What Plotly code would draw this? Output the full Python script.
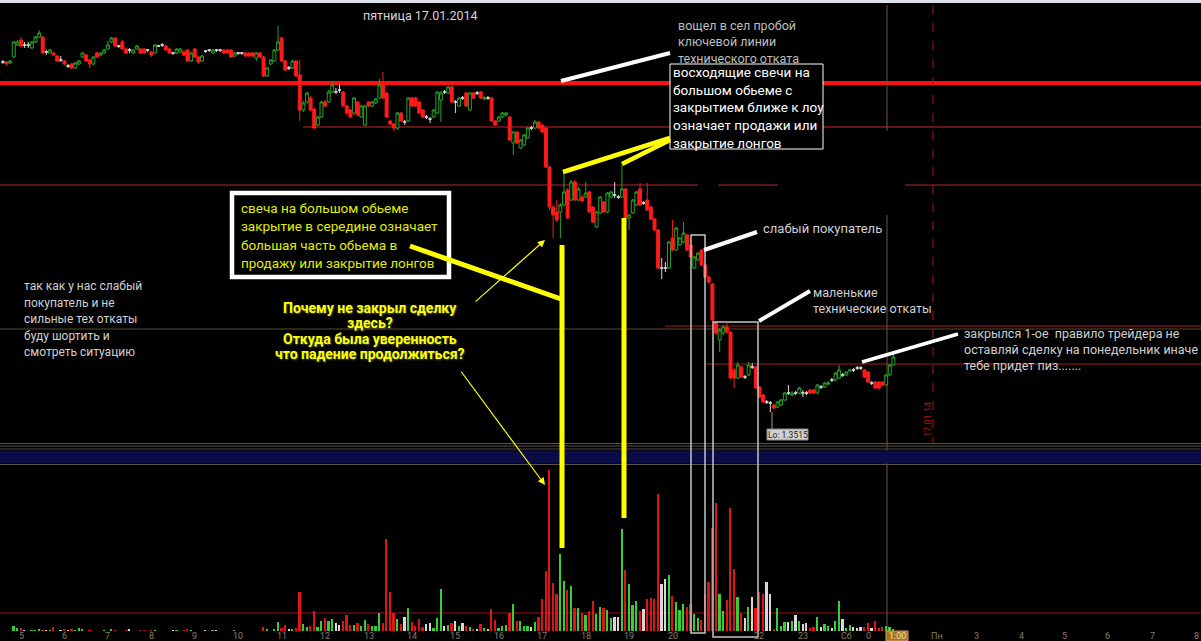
import numpy as np
import pandas as pd
import plotly.graph_objects as go

# ---------------- data ----------------
BASE_PRICE = 1.35000           # OHLC below are in points (0.00001) above this base
START_TIME = "2014-01-17 04:35"
BAR_MINUTES = 5

open_pts = [
    850, 850, 848, 860, 884, 894, 884, 884, 878, 890,
    900, 900, 870, 868, 868, 862, 854, 852, 842, 846,
    838, 846, 860, 864, 854, 846, 868, 864, 868, 876,
    890, 898, 882, 890, 876, 874, 868, 876, 876, 876,
    874, 870, 868, 882, 884, 882, 876, 868, 868, 870,
    870, 874, 852, 876, 860, 852, 872, 874, 868, 874,
    874, 874, 874, 874, 862, 868, 868, 868, 868, 868,
    858, 868, 860, 822, 846, 852, 874, 898, 852, 838,
    838, 852, 824, 754, 770, 778, 756, 724, 740, 770,
    770, 790, 790, 794, 790, 762, 754, 748, 770, 740,
    724, 770, 762, 768, 778, 804, 788, 732, 726, 718,
    748, 730, 732, 778, 778, 770, 754, 740, 736, 740,
    748, 774, 790, 788, 800, 770, 762, 778, 788, 754,
    788, 788, 790, 776, 778, 778, 732, 732, 740, 744,
    740, 688, 710, 678, 684, 698, 718, 718, 730, 724,
    718, 640, 560, 550, 550, 564, 594, 574, 610, 574,
    580, 580, 590, 560, 520, 548, 570, 550, 580, 584,
    580, 580, 596, 538, 548, 564, 596, 568, 574, 560,
    536, 514, 438, 438, 438, 498, 474, 484, 490, 504,
    484, 438, 454, 474, 444, 420, 406, 330, 294, 308,
    320, 310, 234, 218, 240, 220, 224, 240, 240, 200,
    184, 170, 168, 164, 160, 164, 174, 188, 184, 188,
    188, 188, 188, 194, 194, 188, 200, 200, 206, 214,
    214, 218, 224, 224, 232, 234, 238, 238, 234, 230,
    208, 210, 210, 210, 204, 224, 244,
]
high_pts = [
    854, 852, 854, 892, 894, 900, 890, 890, 892, 902,
    914, 902, 874, 876, 870, 864, 862, 854, 846, 848,
    850, 854, 870, 866, 856, 862, 870, 870, 876, 892,
    900, 900, 884, 894, 878, 878, 876, 884, 878, 878,
    876, 872, 886, 884, 888, 884, 878, 870, 878, 878,
    874, 876, 870, 878, 862, 864, 874, 876, 876, 876,
    876, 876, 876, 876, 870, 870, 870, 870, 870, 870,
    870, 870, 862, 840, 856, 876, 922, 900, 854, 842,
    854, 854, 854, 772, 790, 782, 758, 742, 772, 774,
    794, 810, 798, 806, 792, 764, 756, 780, 772, 764,
    764, 772, 772, 778, 816, 830, 790, 734, 728, 750,
    750, 734, 780, 780, 780, 772, 756, 744, 740, 756,
    792, 792, 794, 802, 802, 774, 780, 782, 790, 790,
    790, 792, 792, 782, 782, 780, 734, 742, 750, 750,
    742, 712, 712, 696, 706, 720, 722, 734, 732, 726,
    720, 642, 564, 574, 568, 628, 598, 614, 614, 600,
    584, 610, 592, 562, 552, 582, 572, 590, 592, 610,
    584, 644, 598, 546, 576, 592, 608, 572, 608, 562,
    538, 516, 458, 450, 492, 534, 520, 500, 530, 506,
    486, 462, 470, 476, 446, 422, 408, 332, 318, 324,
    328, 312, 238, 250, 242, 224, 250, 248, 242, 202,
    186, 174, 172, 166, 172, 176, 190, 204, 192, 192,
    200, 194, 192, 196, 196, 206, 204, 210, 212, 218,
    230, 244, 228, 232, 236, 238, 242, 242, 236, 232,
    212, 212, 212, 212, 226, 246, 268,
]
low_pts = [
    846, 844, 846, 858, 882, 880, 878, 878, 876, 888,
    898, 866, 864, 866, 862, 850, 850, 844, 838, 836,
    836, 844, 858, 850, 838, 844, 858, 862, 866, 874,
    888, 880, 878, 874, 866, 868, 866, 874, 866, 866,
    870, 860, 866, 880, 880, 872, 866, 864, 866, 868,
    862, 850, 850, 858, 846, 850, 868, 870, 866, 870,
    870, 866, 866, 858, 860, 864, 864, 860, 860, 860,
    852, 858, 820, 820, 844, 850, 872, 850, 832, 834,
    836, 820, 732, 750, 766, 752, 716, 722, 738, 760,
    768, 788, 786, 788, 760, 744, 738, 744, 742, 738,
    722, 760, 760, 766, 776, 776, 738, 724, 712, 714,
    730, 724, 730, 760, 760, 746, 738, 736, 728, 738,
    746, 730, 786, 786, 768, 748, 760, 774, 760, 752,
    776, 784, 776, 774, 774, 730, 722, 730, 738, 742,
    692, 664, 686, 676, 682, 696, 714, 716, 716, 708,
    638, 554, 498, 530, 498, 562, 536, 572, 572, 572,
    570, 578, 548, 528, 518, 546, 548, 548, 578, 578,
    576, 578, 536, 514, 546, 562, 562, 564, 552, 534,
    512, 434, 416, 430, 436, 472, 472, 482, 488, 472,
    458, 436, 452, 442, 418, 406, 330, 304, 270, 304,
    306, 216, 198, 216, 218, 216, 222, 236, 196, 178,
    168, 166, 150, 156, 158, 162, 172, 184, 182, 184,
    186, 180, 184, 186, 186, 186, 196, 198, 204, 210,
    212, 216, 220, 222, 230, 230, 234, 234, 218, 208,
    204, 196, 194, 202, 202, 222, 242,
]
close_pts = [
    850, 846, 852, 890, 890, 882, 884, 884, 890, 900,
    908, 868, 870, 874, 864, 852, 854, 846, 842, 838,
    848, 852, 868, 852, 846, 860, 860, 868, 874, 884,
    898, 882, 882, 876, 868, 874, 874, 882, 868, 868,
    874, 864, 884, 882, 884, 874, 868, 868, 876, 876,
    864, 852, 868, 860, 850, 862, 872, 874, 874, 874,
    874, 868, 868, 860, 868, 868, 868, 862, 862, 862,
    868, 860, 822, 838, 854, 874, 890, 852, 834, 838,
    852, 822, 754, 768, 788, 754, 718, 740, 770, 762,
    790, 804, 790, 794, 762, 748, 740, 778, 744, 762,
    762, 762, 770, 776, 804, 778, 740, 726, 718, 748,
    732, 730, 778, 762, 762, 748, 740, 740, 736, 754,
    790, 788, 790, 800, 770, 770, 778, 778, 762, 788,
    778, 788, 778, 778, 778, 732, 724, 740, 748, 748,
    694, 710, 688, 694, 704, 718, 718, 730, 718, 710,
    640, 560, 544, 534, 564, 590, 538, 610, 574, 596,
    572, 588, 550, 530, 550, 580, 550, 588, 590, 584,
    580, 596, 538, 544, 574, 590, 564, 568, 554, 536,
    514, 438, 438, 438, 490, 474, 518, 498, 508, 474,
    460, 460, 468, 444, 420, 410, 334, 308, 314, 320,
    310, 218, 218, 244, 220, 220, 244, 240, 198, 180,
    170, 170, 168, 158, 170, 174, 188, 188, 188, 188,
    198, 188, 188, 188, 188, 204, 200, 208, 208, 214,
    228, 234, 224, 230, 234, 234, 238, 238, 220, 210,
    208, 198, 198, 204, 224, 244, 260,
]
volume = [
    0, 0, 0, 50, 30, 30, 10, 0, 10, 10,
    20, 10, 10, 10, 40, 0, 10, 20, 10, 20,
    10, 30, 20, 0, 10, 0, 0, 0, 10, 0,
    20, 10, 0, 0, 10, 20, 0, 0, 10, 10,
    0, 10, 10, 0, 0, 0, 0, 10, 10, 0,
    10, 20, 10, 0, 0, 0, 10, 0, 10, 10,
    0, 0, 0, 0, 10, 0, 0, 0, 0, 0,
    0, 0, 40, 20, 0, 20, 90, 30, 60, 20,
    20, 30, 390, 70, 40, 50, 200, 40, 100, 130,
    100, 120, 80, 60, 100, 160, 60, 60, 80, 50,
    110, 70, 50, 50, 180, 80, 920, 390, 180, 120,
    70, 140, 230, 90, 50, 120, 40, 70, 80, 30,
    130, 420, 50, 60, 80, 100, 50, 80, 50, 40,
    20, 20, 70, 30, 20, 220, 110, 30, 50, 60,
    180, 270, 100, 100, 50, 50, 40, 90, 140, 320,
    600, 1610, 480, 370, 770, 500, 410, 450, 230, 230,
    180, 160, 200, 300, 170, 240, 230, 210, 130, 140,
    140, 1020, 610, 470, 260, 300, 200, 220, 320, 330,
    320, 1370, 470, 520, 560, 350, 290, 210, 270, 240,
    270, 170, 130, 110, 370, 490, 1030, 1280, 370, 200,
    310, 1230, 620, 340, 180, 130, 240, 340, 230, 390,
    370, 490, 370, 20, 230, 50, 90, 90, 100, 160,
    100, 70, 80, 30, 40, 140, 40, 70, 50, 30,
    100, 300, 120, 30, 60, 40, 30, 40, 40, 80,
    30, 100, 30, 40, 50, 40, 20,
]

key_levels = [1.35808, 1.35720, 1.35604, 1.35316, 1.35322, 1.35246]
volume_level = 180
low_label = "Lo: 1.3515"
date_label = "17.01.14"

tick_hours = [5, 6, 7, 8, 9, 10, 11, 12, 13, 14, 15, 16, 17, 18, 19, 20, 22, 23,
              24, 24.52, 25.17, 26.09, 27, 28.04, 29.03, 30.02, 31.04, 32.05]
tick_labels = ["5", "6", "7", "8", "9", "10", "11", "12", "13", "14", "15", "16",
               "17", "18", "19", "20", "22", "23", "Сб", "0", "1:00", "Пн",
               "3", "4", "5", "6", "7", "8"]

title_text = ["пятница 17.01.2014"]
note_breakout = ["вощел в сел пробой", "ключевой линии", "технического отката"]
note_box = ["восходящие свечи на", "большом обьеме с", "закрытием ближе к лоу",
            "означает продажи или", "закрытие лонгов"]
note_weak = ["слабый покупатель"]
note_pullbacks = ["маленькие", "технические откаты"]
note_closed = ["закрылся 1-ое  правило трейдера не",
               "оставляй сделку на понедельник иначе",
               "тебе придет пиз......."]
note_left = ["так как у нас слабый", "покупатель и не", "сильные тех откаты",
             "буду шортить и", "смотреть ситуацию"]
note_candle = ["свеча на большом обьеме", "закрытие в середине означает",
               "большая часть обьема в", "продажу или закрытие лонгов"]
note_question = ["Почему не закрыл сделку", "здесь?", "Откуда была уверенность",
                 "что падение продолжиться?"]

# ---------------- geometry ----------------
W, H = 1201, 641
PX_PER_HOUR = 43.44
X_HOUR0_PX = 21.0        # pixel x of 05:00
X0 = 5 - X_HOUR0_PX / PX_PER_HOUR
X1 = 5 + (W - X_HOUR0_PX) / PX_PER_HOUR


def px(x):
    return x / W


def py(y):
    return 1 - y / H


times = pd.date_range(START_TIME, periods=len(close_pts), freq=f"{BAR_MINUTES}min")
hours = ((times - times[0].normalize()).total_seconds() / 3600).to_numpy()

o = BASE_PRICE + np.array(open_pts) * 1e-5
h = BASE_PRICE + np.array(high_pts) * 1e-5
l = BASE_PRICE + np.array(low_pts) * 1e-5
c = BASE_PRICE + np.array(close_pts) * 1e-5
vol = np.array(volume)

up = c > o
down = c < o
flat = ~(up | down)

GREEN = "#25a525"
RED = "#ff1a1a"
WHITE = "#d8d8d8"
VGREEN = "#35d035"
VRED = "#e01414"

fig = go.Figure()
for mask, col, fill in [(up, GREEN, "#000000"), (down, RED, RED), (flat, WHITE, WHITE)]:
    fig.add_trace(go.Candlestick(
        x=hours[mask], open=o[mask], high=h[mask], low=l[mask], close=c[mask],
        increasing=dict(line=dict(color=col, width=1), fillcolor=fill),
        decreasing=dict(line=dict(color=col, width=1), fillcolor=fill),
        whiskerwidth=0, xaxis="x", yaxis="y", showlegend=False, hoverinfo="skip"))

vcolors = np.where(up, VGREEN, np.where(down, VRED, WHITE))
fig.add_trace(go.Bar(x=hours, y=vol, marker=dict(color=list(vcolors), line=dict(width=0)),
                     width=0.04, xaxis="x2", yaxis="y2", showlegend=False, hoverinfo="skip"))

# price axis mapping: pixel y 443 -> 88 pts, pixel y 5 -> 964 pts
P_BOT = BASE_PRICE + 88e-5
P_TOP = BASE_PRICE + 964e-5

shapes = []


def rect(x0, y0, x1, y1, fill=None, line_color=None, lw=0, layer="above"):
    shapes.append(dict(type="rect", xref="paper", yref="paper",
                       x0=px(x0), x1=px(x1), y0=py(y0), y1=py(y1),
                       fillcolor=fill if fill else "rgba(0,0,0,0)",
                       line=dict(color=line_color if line_color else "rgba(0,0,0,0)", width=lw),
                       layer=layer))


def seg(x0, y0, x1, y1, color, lw, layer="above", dash="solid"):
    shapes.append(dict(type="line", xref="paper", yref="paper",
                       x0=px(x0), x1=px(x1), y0=py(y0), y1=py(y1),
                       line=dict(color=color, width=lw, dash=dash), layer=layer))


# top window strip
rect(0, 0, W, 3, fill="#dde2ec", layer="below")
# price levels (data y)
level_styles = [(0, "#ff1010", 4), (303, "#8a1a1a", 1.5), (0, "#7a1818", 1.5),
                (0, "#5a4a32", 1.2), (665, "#a81c1c", 1.2), (705, "#a81c1c", 1.2)]
for lev, (xs, col, lw) in zip(key_levels, level_styles):
    shapes.append(dict(type="line", xref="paper", yref="y", x0=px(xs), x1=1,
                       y0=lev, y1=lev, line=dict(color=col, width=lw), layer="below"))
shapes.append(dict(type="line", xref="paper", yref="y2", x0=0, x1=1, y0=volume_level,
                   y1=volume_level, line=dict(color="#a01212", width=1.2), layer="below"))
# vertical session lines
seg(887, 5, 887, H, "#6a5538", 1, layer="below")
seg(933, 5, 933, 443, "#b01414", 1, layer="below", dash="dash")
# pane separator
seg(0, 443.5, W, 443.5, "#5e5446", 1, layer="above")
seg(0, 446, W, 446, "#5e5446", 1, layer="above")
seg(0, 449, W, 449, "#4e4a44", 1, layer="above")
rect(0, 450.5, W, 463.5, fill="#0b0b48", layer="above")
seg(0, 464.5, W, 464.5, "#5e5446", 1, layer="above")

# gray boxes
rect(691, 235, 705, 633, line_color="#c4c4c4", lw=1.5)
rect(713, 322, 758, 637, line_color="#c4c4c4", lw=1.5)
# smudges
rect(698, 176, 718, 193, fill="#000000", layer="above")
rect(778, 131, 905, 215, fill="#000000", layer="above")
# text boxes
rect(670, 64, 823, 149, fill="#000000", line_color="#ffffff", lw=1)
rect(232, 193, 449, 277, fill="#000000", line_color="#ffffff", lw=4.5)

# white pointer lines
seg(561, 81, 670, 53, "#ffffff", 4)
seg(704, 250, 757, 232, "#ffffff", 4)
seg(759, 321, 810, 291, "#ffffff", 4)
seg(862, 362, 958, 334, "#ffffff", 3.5)
# yellow lines
YEL = "#ffff00"
seg(563, 172, 670, 138, YEL, 4.5)
seg(622, 164, 670, 140, YEL, 4.5)
seg(410, 246, 561, 299, YEL, 5)
seg(562, 245, 562, 548, YEL, 5)
seg(624, 218, 624, 518, YEL, 5)

# Lo label
seg(772, 412, 772, 429, "#9a9a9a", 1)
rect(767, 429, 808, 440, fill="#d0d0d0", line_color="#8a8a8a", lw=1)
# 1:00 marker box
rect(886, 631, 908, 641, fill="#a8741c", line_color="#d0a050", lw=1)

annotations = []


def add_lines(lines, x, y0, dy, size, color, bold=False, anchor="left", shadow=None):
    for k, t in enumerate(lines):
        f = dict(family="Roboto", size=size, color=color)
        if shadow:
            f["shadow"] = shadow
        annotations.append(dict(text=f"<b>{t}</b>" if bold else t, x=px(x), y=py(y0 + k * dy),
                                xref="paper", yref="paper", xanchor=anchor, yanchor="middle",
                                showarrow=False, font=f, borderpad=0))


add_lines(title_text, 362, 15.5, 0, 12.5, "#d6d6d6")
add_lines(note_breakout, 677, 25, 16.7, 12.5, "#bdbdbd")
add_lines(note_box, 672, 72, 17.7, 13.5, "#ffffff")
add_lines(note_weak, 762, 228, 0, 13, "#d0d0d0")
add_lines(note_pullbacks, 812, 292, 16.5, 12.5, "#d0d0d0")
add_lines(note_closed, 963, 333, 16, 12.5, "#d0d0d0")
add_lines(note_left, 23, 286, 16.5, 12, "#d0d0d0")
add_lines(note_candle, 240, 208, 18.3, 13.5, "#e2ee00")
add_lines(note_question, 370, 308, 15.4, 14, YEL, bold=True, anchor="center",
          shadow="1px 1px 2px #555555")

annotations.append(dict(text=low_label, x=px(787.5), y=py(434.5), xref="paper", yref="paper",
                        showarrow=False, font=dict(family="Roboto", size=8.5, color="#202020"),
                        xanchor="center", yanchor="middle", borderpad=0))
annotations.append(dict(text=date_label, x=px(928), y=py(420), xref="paper", yref="paper",
                        showarrow=False, textangle=-90,
                        font=dict(family="Roboto", size=9, color="#b41414"),
                        xanchor="center", yanchor="middle", borderpad=0))
# arrows
for (hx, hy, tx, ty) in [(545, 240, 474, 303), (545, 485, 460, 370)]:
    annotations.append(dict(text="", x=px(hx), y=py(hy), xref="paper", yref="paper",
                            ax=tx - hx, ay=ty - hy, showarrow=True, arrowhead=2,
                            arrowsize=1.2, arrowwidth=1.2, arrowcolor=YEL))
# time axis labels
for th, tl in zip(tick_hours, tick_labels):
    annotations.append(dict(text=tl, x=th, y=py(635.5), xref="x", yref="paper",
                            showarrow=False, xanchor="center", yanchor="middle",
                            font=dict(family="Roboto", size=9,
                                      color="#f0e0c0" if tl == "1:00" else "#8a7d6a"),
                            borderpad=0))

fig.update_layout(
    width=W, height=H, margin=dict(l=0, r=0, t=0, b=0),
    paper_bgcolor="#000000", plot_bgcolor="#000000",
    showlegend=False, boxgap=0.1, boxgroupgap=0.1, bargap=0,
    xaxis=dict(domain=[0, 1], range=[X0, X1], visible=False, anchor="y",
               rangeslider=dict(visible=False), fixedrange=True),
    xaxis2=dict(domain=[0, 1], range=[X0, X1], visible=False, anchor="y2", matches="x"),
    yaxis=dict(domain=[(H - 443) / H, (H - 5) / H], range=[P_BOT, P_TOP], visible=False),
    yaxis2=dict(domain=[(H - 631) / H, (H - 464) / H], range=[0, 1670], visible=False),
    shapes=shapes, annotations=annotations,
)

fig.write_html("out.html")
